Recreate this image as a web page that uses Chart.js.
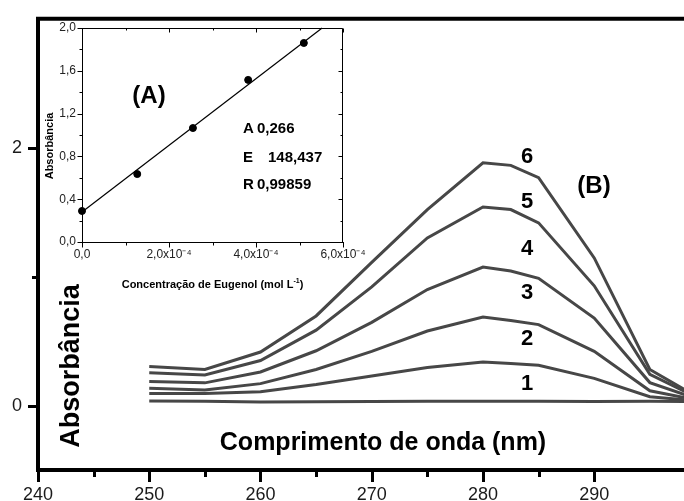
<!DOCTYPE html>
<html><head><meta charset="utf-8">
<script src="https://cdn.jsdelivr.net/npm/chart.js@4/dist/chart.umd.min.js"></script>
<style>
html,body{margin:0;padding:0;background:#fff;}
#wrap{position:relative;width:684px;height:501px;overflow:hidden;background:#fff;}
#main{position:absolute;left:0;top:0;}
#inset{position:absolute;left:0;top:0;}
</style></head><body>
<div id="wrap"><canvas id="main" width="684" height="501"></canvas><canvas id="inset" width="380" height="300"></canvas></div>
<script>
// ---- main spectra (B) ----
const wavelengths = [250, 255, 260, 265, 270, 275, 280, 282.5, 285, 290, 295, 300];
const curve1 = [0.035, 0.033, 0.027, 0.030, 0.032, 0.033, 0.033, 0.033, 0.033, 0.031, 0.033, 0.030];
const curve2 = [0.094, 0.094, 0.107, 0.163, 0.229, 0.295, 0.338, 0.326, 0.313, 0.211, 0.069, 0.030];
const curve3 = [0.135, 0.120, 0.170, 0.280, 0.420, 0.578, 0.687, 0.660, 0.628, 0.420, 0.115, 0.030];
const curve4 = [0.186, 0.176, 0.260, 0.425, 0.645, 0.900, 1.074, 1.043, 0.987, 0.679, 0.178, 0.030];
const curve5 = [0.254, 0.237, 0.349, 0.585, 0.920, 1.300, 1.540, 1.520, 1.417, 0.929, 0.242, 0.030];
const curve6 = [0.303, 0.280, 0.415, 0.695, 1.110, 1.520, 1.883, 1.863, 1.768, 1.145, 0.280, 0.030];
const curveLabels = ['1', '2', '3', '4', '5', '6'];
const xLabelTicks = [240, 250, 260, 270, 280, 290];
const yLabelTicks = [0, 2];

// ---- inset calibration (A) ----
const concentration = [0, 1.27e-4, 2.55e-4, 3.82e-4, 5.10e-4];
const absorbance = [0.29, 0.635, 1.065, 1.515, 1.86];
const fitX = [0, 5.52e-4];
const fitY = [0.28, 2.0];
const fitText = [['A', '0,266'], ['E', '148,437'], ['R', '0,99859']];

const FONT = "'Liberation Sans', Arial, Helvetica, sans-serif";
const curves = [curve1, curve2, curve3, curve4, curve5, curve6];

const mainDecor = {
  id: 'mainDecor',
  afterDraw(chart) {
    const ctx = chart.ctx, a = chart.chartArea, xs = chart.scales.x, ys = chart.scales.y;
    ctx.save();
    ctx.strokeStyle = '#000'; ctx.fillStyle = '#000'; ctx.lineCap = 'butt';
    ctx.lineWidth = 4;
    ctx.beginPath(); ctx.moveTo(a.left - 2, a.top); ctx.lineTo(a.right, a.top); ctx.stroke();
    ctx.fillRect(a.left - 2, a.bottom - 2, 4, 4);
    ctx.lineWidth = 3;
    xs.ticks.forEach(t => {
      const p = Math.round(xs.getPixelForValue(t.value)) + 0.5;
      const major = xLabelTicks.includes(Math.round(t.value));
      ctx.beginPath(); ctx.moveTo(p, a.bottom); ctx.lineTo(p, a.bottom + (major ? 12 : 7)); ctx.stroke();
    });
    ys.ticks.forEach(t => {
      const p = Math.round(ys.getPixelForValue(t.value)) + 0.5;
      const major = yLabelTicks.includes(t.value);
      ctx.beginPath(); ctx.moveTo(a.left, p); ctx.lineTo(a.left - (major ? 10 : 6), p); ctx.stroke();
    });
    // axis titles
    ctx.fillStyle = '#000';
    ctx.font = 'bold 27px ' + FONT;
    ctx.textAlign = 'center'; ctx.textBaseline = 'alphabetic';
    ctx.save(); ctx.translate(79, 366); ctx.rotate(-Math.PI / 2); ctx.fillText('Absorbância', 0, 0); ctx.restore();
    ctx.font = 'bold 25px ' + FONT;
    ctx.fillText('Comprimento de onda (nm)', 383, 450);
    // curve labels
    ctx.font = 'bold 22px ' + FONT;
    const lx = xs.getPixelForValue(284.9);
    const ly = [390, 345, 299, 255, 208, 163];
    curveLabels.forEach((l, i) => ctx.fillText(l, 527, ly[i]));
    ctx.font = 'bold 24px ' + FONT;
    ctx.fillText('(B)', 594, 193);
    ctx.restore();
  }
};

new Chart(document.getElementById('main'), {
  type: 'line',
  data: {
    datasets: curves.map((c, i) => ({
      label: curveLabels[i],
      data: wavelengths.map((w, j) => ({ x: w, y: c[j] })),
      borderColor: '#474747', borderWidth: 3, pointRadius: 0, tension: 0, fill: false
    }))
  },
  options: {
    responsive: false, animation: false, events: [],
    layout: { padding: { top: 13, left: 0, right: 0, bottom: 0 } },
    plugins: { legend: { display: false }, tooltip: { enabled: false } },
    scales: {
      x: {
        type: 'linear', min: 240, max: 298.07, position: 'bottom',
        afterBuildTicks: s => { s.ticks = s.ticks.filter(t => Math.abs(t.value / 5 - Math.round(t.value / 5)) < 1e-6); },
        afterFit: s => { s.height = 31; },
        ticks: { stepSize: 5, autoSkip: false, maxRotation: 0, padding: 6, color: '#1a1a1a',
          font: { family: FONT, size: 18 },
          callback: v => xLabelTicks.includes(Math.round(v)) && Math.abs(v - Math.round(v)) < 1e-6 ? String(Math.round(v)) : '' },
        grid: { display: true, drawOnChartArea: false, drawTicks: true, tickLength: 8, tickColor: 'rgba(0,0,0,0)' },
        border: { display: true, color: '#000', width: 4 }
      },
      y: {
        type: 'linear', min: -0.5, max: 3,
        afterBuildTicks: s => { s.ticks = s.ticks.filter(t => Number.isInteger(t.value) && t.value < 3); },
        afterFit: s => { s.width = 38; },
        ticks: { stepSize: 1, autoSkip: false, padding: 8, color: '#1a1a1a',
          font: { family: FONT, size: 18 },
          callback: v => yLabelTicks.includes(v) ? String(v) : '' },
        grid: { display: true, drawOnChartArea: false, drawTicks: true, tickLength: 8, tickColor: 'rgba(0,0,0,0)' },
        border: { display: true, color: '#000', width: 4 }
      }
    }
  },
  plugins: [mainDecor]
});

const insetDecor = {
  id: 'insetDecor',
  afterDraw(chart) {
    const ctx = chart.ctx, a = chart.chartArea, xs = chart.scales.x, ys = chart.scales.y;
    ctx.save();
    ctx.strokeStyle = '#000'; ctx.lineWidth = 1;
    const top = Math.round(a.top) + 0.5, right = Math.round(a.right) - 0.5;
    const bottom = Math.round(a.bottom) + 0.5, left = Math.round(a.left) + 0.5;
    ctx.beginPath(); ctx.moveTo(left, top); ctx.lineTo(right, top); ctx.lineTo(right, bottom); ctx.stroke();
    xs.ticks.forEach(t => {
      const p = Math.round(xs.getPixelForValue(t.value)) + 0.5;
      const major = Math.round(t.value * 1e4) % 2 === 0;
      ctx.beginPath(); ctx.moveTo(p, bottom); ctx.lineTo(p, bottom + (major ? 5 : 3)); ctx.stroke();
      ctx.beginPath(); ctx.moveTo(p, top); ctx.lineTo(p, top + (major ? 4 : 2)); ctx.stroke();
    });
    ys.ticks.forEach(t => {
      const p = Math.round(ys.getPixelForValue(t.value)) + 0.5;
      const major = Math.round(t.value * 10) % 4 === 0;
      ctx.beginPath(); ctx.moveTo(left, p); ctx.lineTo(left - (major ? 5 : 3), p); ctx.stroke();
      ctx.beginPath(); ctx.moveTo(right, p); ctx.lineTo(right - (major ? 4 : 2), p); ctx.stroke();
    });
    ctx.fillStyle = '#000';
    ctx.textBaseline = 'alphabetic';
    // y title
    ctx.font = 'bold 11px ' + FONT; ctx.textAlign = 'center';
    ctx.save(); ctx.translate(53, 146); ctx.rotate(-Math.PI / 2); ctx.fillText('Absorbância', 0, 0); ctx.restore();
    // x title with superscript
    const p1 = 'Concentração de Eugenol (mol L', sup = '-1', p3 = ')';
    ctx.font = 'bold 11px ' + FONT; const w1 = ctx.measureText(p1).width, w3 = ctx.measureText(p3).width;
    ctx.font = 'bold 7px ' + FONT; const w2 = ctx.measureText(sup).width;
    let x0 = (a.left + a.right) / 2 - (w1 + w2 + w3) / 2;
    ctx.textAlign = 'left';
    ctx.font = 'bold 11px ' + FONT; ctx.fillText(p1, x0, 288);
    ctx.font = 'bold 7px ' + FONT; ctx.fillText(sup, x0 + w1, 283);
    ctx.font = 'bold 11px ' + FONT; ctx.fillText(p3, x0 + w1 + w2, 288);
    // (A)
    ctx.font = 'bold 24px ' + FONT; ctx.textAlign = 'center';
    ctx.fillText('(A)', 149, 103);
    // fit parameters
    ctx.font = 'bold 15px ' + FONT; ctx.textAlign = 'left';
    const rows = [133, 162, 189];
    const valX = [257, 268, 257];
    fitText.forEach((r, i) => { ctx.fillText(r[0], 243, rows[i]); ctx.fillText(r[1], valX[i], rows[i]); });
    ctx.restore();
  }
};

new Chart(document.getElementById('inset'), {
  type: 'scatter',
  data: {
    datasets: [
      { type: 'line', data: fitX.map((x, i) => ({ x, y: fitY[i] })), borderColor: '#000', borderWidth: 1.2, pointRadius: 0, clip: false },
      { type: 'scatter', data: concentration.map((x, i) => ({ x, y: absorbance[i] })), backgroundColor: '#000', borderColor: '#000', pointRadius: 3.5, clip: false }
    ]
  },
  options: {
    responsive: false, animation: false, events: [],
    layout: { padding: { top: 28, left: 0, right: 37, bottom: 0 } },
    plugins: { legend: { display: false }, tooltip: { enabled: false } },
    scales: {
      x: {
        type: 'linear', min: 0, max: 6e-4,
        afterFit: s => { s.height = 58; },
        ticks: { stepSize: 1e-4, autoSkip: false, maxRotation: 0, padding: 0, color: '#222',
          font: { family: FONT, size: 12 },
          callback: v => { const k = Math.round(v * 1e4); if (k % 2) return ''; return k === 0 ? '0,0' : k + ',0x10⁻⁴'; } },
        grid: { display: true, drawOnChartArea: false, drawTicks: true, tickLength: 5, tickColor: 'rgba(0,0,0,0)' },
        border: { display: true, color: '#000', width: 1 }
      },
      y: {
        type: 'linear', min: 0, max: 2,
        afterFit: s => { s.width = 82; },
        ticks: { stepSize: 0.2, autoSkip: false, padding: 1, color: '#222',
          font: { family: FONT, size: 12 },
          callback: v => { const k = Math.round(v * 10); return k % 4 === 0 ? (k / 10).toFixed(1).replace('.', ',') : ''; } },
        grid: { display: true, drawOnChartArea: false, drawTicks: true, tickLength: 5, tickColor: 'rgba(0,0,0,0)' },
        border: { display: true, color: '#000', width: 1 }
      }
    }
  },
  plugins: [insetDecor]
});
</script>
</body></html>
